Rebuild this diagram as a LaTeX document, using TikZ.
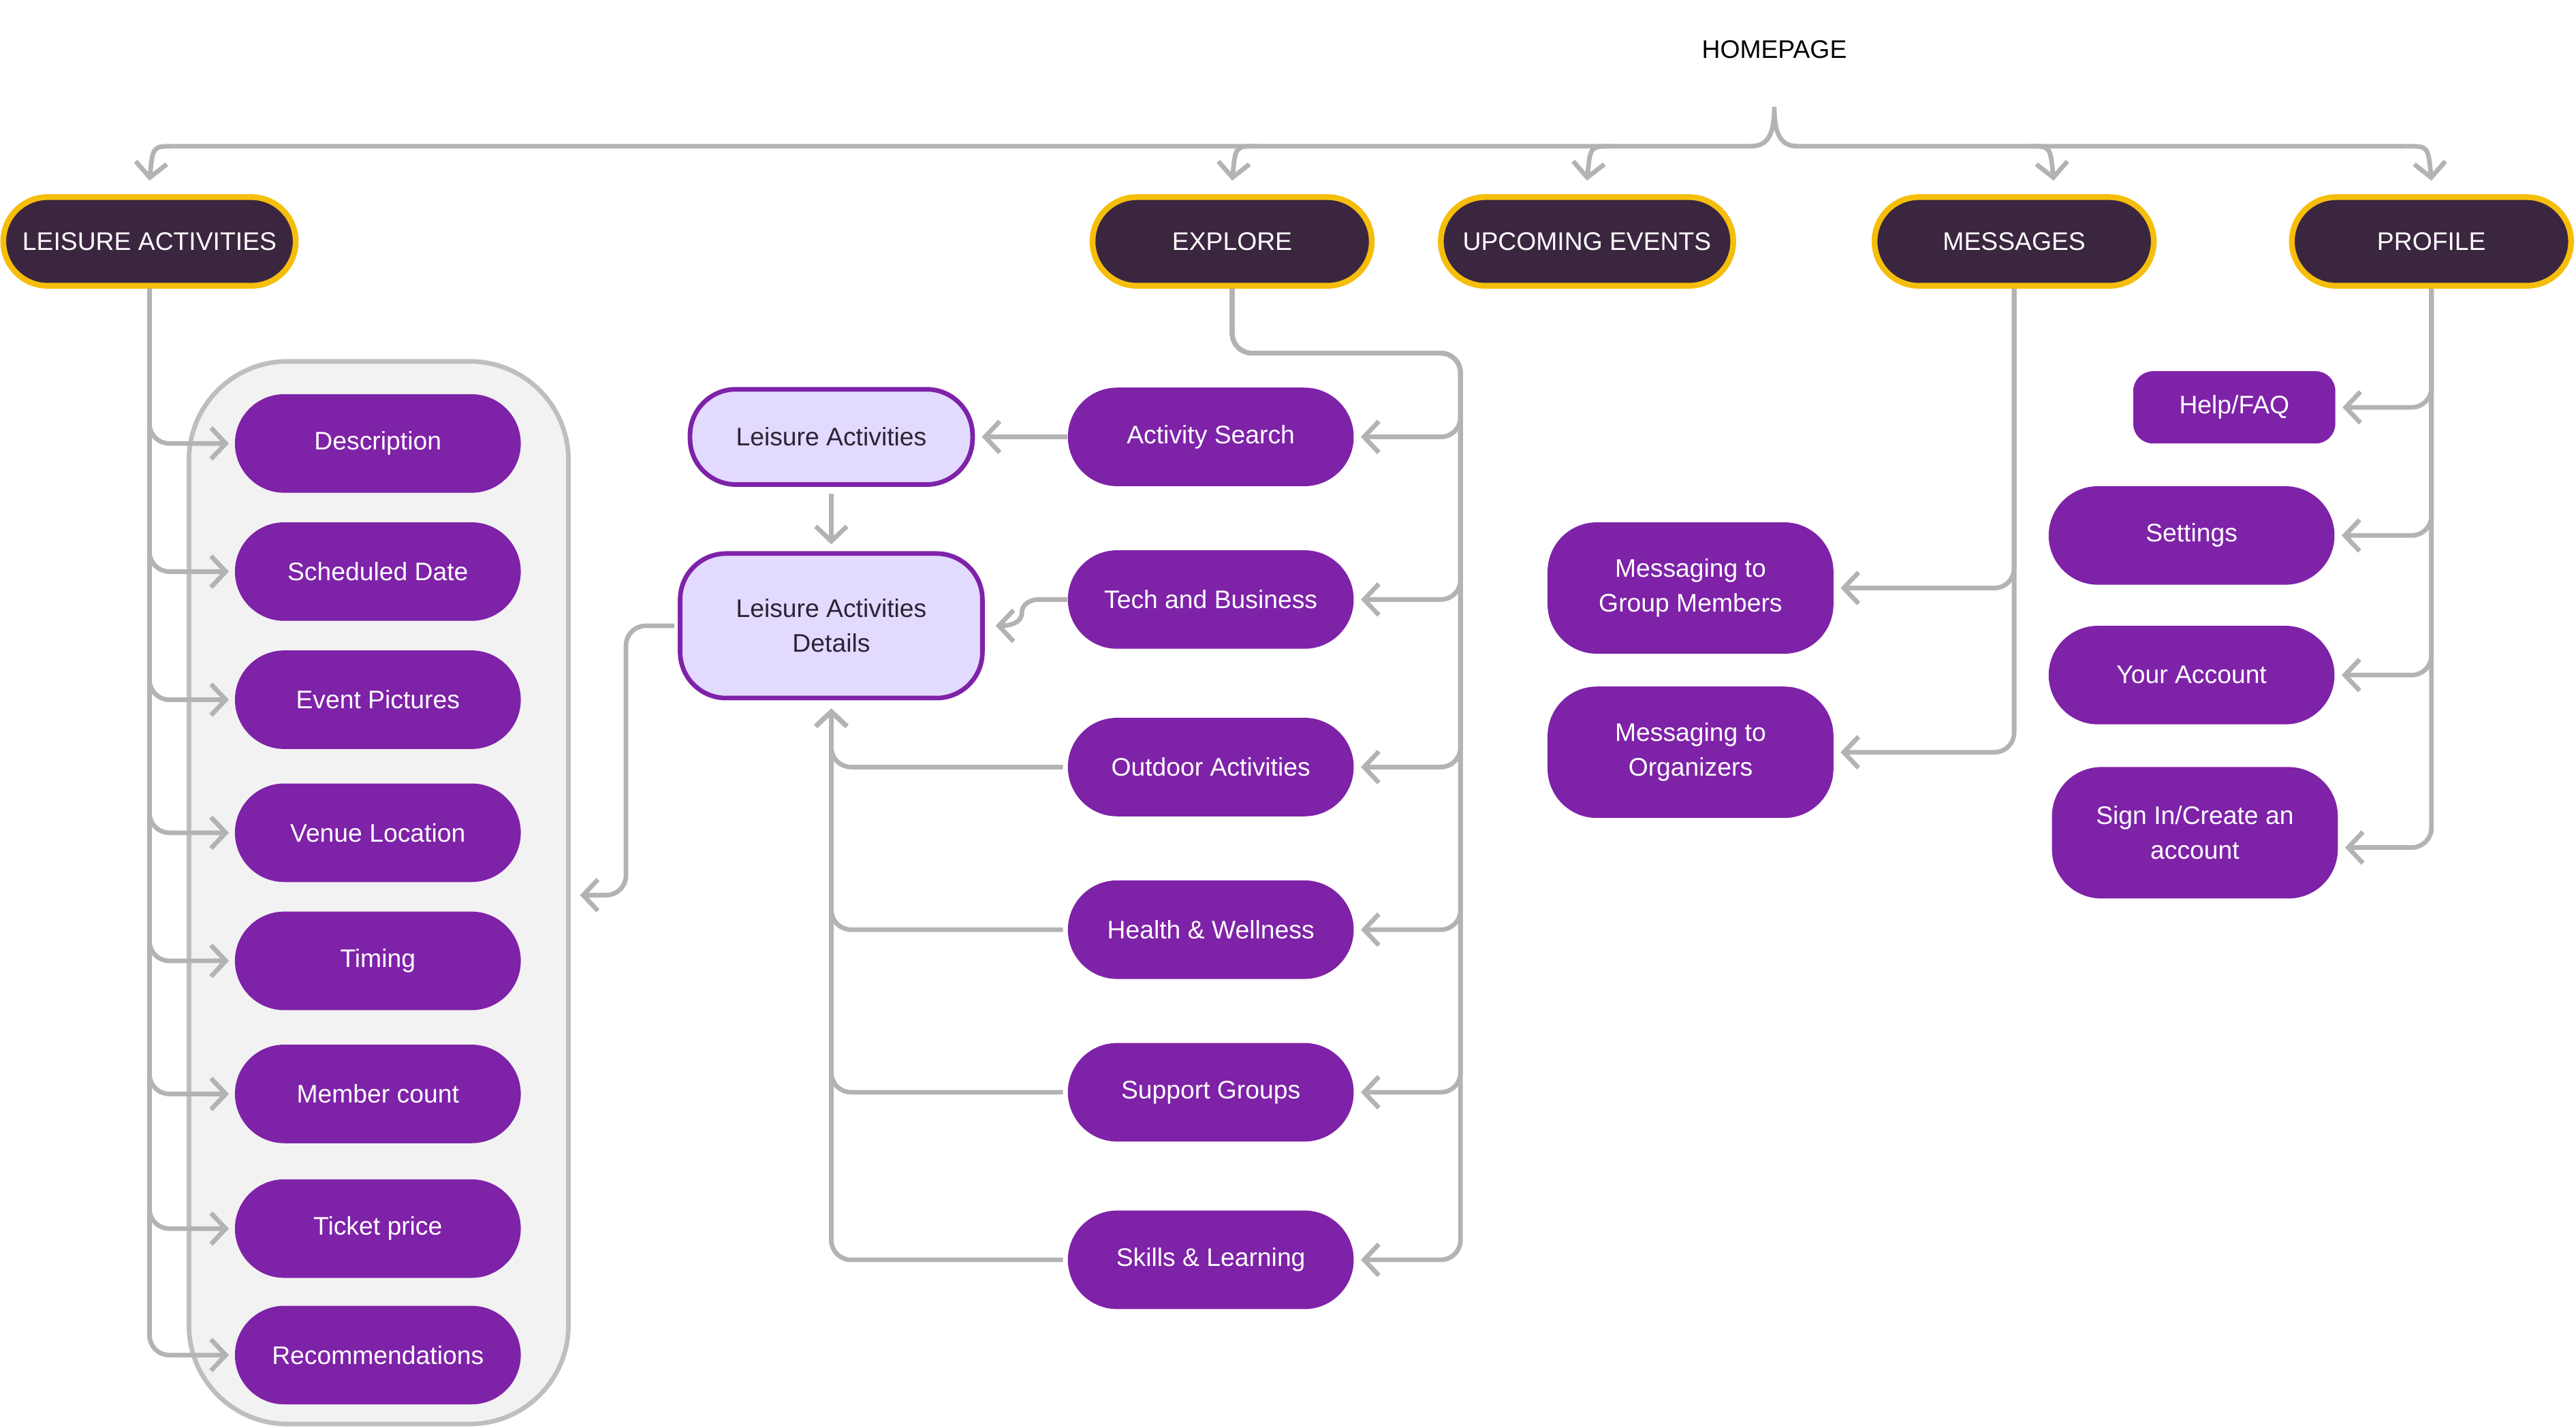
\documentclass[tikz,border=0pt]{standalone}
\usepackage{fontspec}
\setmainfont{Liberation Sans}
\usetikzlibrary{arrows.meta}
\definecolor{dk}{HTML}{3B2640}
\definecolor{yl}{HTML}{F5BE0B}
\definecolor{pu}{HTML}{7E22A8}
\definecolor{lv}{HTML}{E2DAFF}
\definecolor{gr}{HTML}{B3B3B3}
\definecolor{pn}{HTML}{F2F2F2}
\definecolor{tx}{HTML}{2D2235}
\begin{document}
\begin{tikzpicture}[x=0.05cm,y=-0.05cm,
  font=\fontsize{22}{30}\selectfont,
  top/.style={draw=yl,line width=5pt,fill=dk,text=white,rounded corners=1.35cm,minimum width=8.2cm,minimum height=2.7cm,inner sep=0pt},
  pur/.style={fill=pu,text=white,rounded corners=1.5cm,minimum width=8.7cm,minimum height=3cm,inner sep=0pt,align=center},
  lit/.style={draw=pu,line width=4pt,fill=lv,text=tx,rounded corners=1.4cm,inner sep=0pt,align=center},
  arr/.style={draw=gr,line width=4pt,rounded corners=0.6cm,-{Straight Barb[length=0.45cm,width=0.95cm,line width=4pt]}},
  ln/.style={draw=gr,line width=4pt}]
\useasboundingbox (0,0) rectangle (1568,869);
\node (hp) at (1080,30) {HOMEPAGE};
% top nodes
\node[top,minimum width=8.9cm] (la) at (91,147) {LEISURE ACTIVITIES};
\node[top,minimum width=8.5cm] (ex) at (750,147) {EXPLORE};
\node[top,minimum width=8.9cm] (ue) at (966,147) {UPCOMING EVENTS};
\node[top,minimum width=8.5cm] (ms) at (1226,147) {MESSAGES};
\node[top,minimum width=8.5cm] (pf) at (1480,147) {PROFILE};
% brace
\coordinate (b0) at (106,89); \coordinate (b1) at (1465,89);
\coordinate (bc) at (1080,65);
\draw[ln] (b0) -- (1066,89) .. controls (1077,89) and (1080,80) .. (bc) .. controls (1080,80) and (1083,89) .. (1094,89) -- (b1);
\coordinate (t1) at (91,110); \coordinate (t2) at (750,110); \coordinate (t3) at (966,110);
\coordinate (t4) at (1250,110); \coordinate (t5) at (1480,110);
\draw[arr] (b0) .. controls (93,89) .. (t1);
\draw[arr] (765,89) .. controls (752,89) .. (t2);
\draw[arr] (981,89) .. controls (968,89) .. (t3);
\draw[arr] (1235,89) .. controls (1248,89) .. (t4);
\draw[arr] (b1) .. controls (1478,89) .. (t5);
% left panel
\node[draw=gr!85,line width=4pt,fill=pn,rounded corners=3cm,minimum width=11.55cm,minimum height=32.35cm,inner sep=0pt] (panel) at (230.5,543.5) {};
\foreach \n/\y/\t in {d1/270/Description,d2/348/Scheduled Date,d3/426/Event Pictures,d4/507/Venue Location,d5/585/Timing,d6/666/Member count,d7/748/Ticket price,d8/825/Recommendations}{
  \node[pur] (\n) at (230,\y) {\t};
  \draw[arr,shorten >=5pt] (la.south) |- (\n.west);
}
% explore column
\foreach \n/\y/\t in {as/266/Activity Search,tb/365/Tech and Business,oa/467/Outdoor Activities,hw/566/Health \& Wellness,sg/665/Support Groups,sl/767/Skills \& Learning}{
  \node[pur] (\n) at (737,\y) {\t};
  \draw[arr,shorten >=6pt] (ex.south) |- (889,215) |- (\n.east);
}
\node[lit,minimum width=8.6cm,minimum height=2.9cm] (lac) at (506,266) {Leisure Activities};
\node[lit,minimum width=9.2cm,minimum height=4.4cm] (det) at (506,381) {Leisure Activities\\Details};
\draw[arr,shorten >=6pt] (as.west) -- (lac.east);
\draw[arr,shorten <=6pt,shorten >=6pt] (lac.south) -- (det.north);
\coordinate (tw) at (622,373);
\draw[arr,rounded corners=0pt] (tb.west) -- (632,365) to[out=180,in=90] (tw) to[out=-90,in=0] (606,381);
\foreach \n in {oa,hw,sg,sl}{
  \draw[arr,shorten >=7pt] ([xshift=-4pt]\n.west) -| (det.south);
}
\coordinate (pin) at (353,545);
\draw[arr] ([xshift=-3pt]det.west) -| (381,545) -- (pin);
% messages
\node[pur,minimum height=4cm] (mg) at (1029,358) {Messaging to\\Group Members};
\node[pur,minimum height=4cm] (mo) at (1029,458) {Messaging to\\Organizers};
\draw[arr,shorten >=6pt] (ms.south) |- (mg.east);
\draw[arr,shorten >=6pt] (ms.south) |- (mo.east);
% profile
\node[pur,minimum width=6.15cm,minimum height=2.2cm,rounded corners=0.6cm] (hf) at (1360,248) {Help/FAQ};
\node[pur] (st) at (1334,326) {Settings};
\node[pur] (ya) at (1334,411) {Your Account};
\node[pur,minimum height=4cm] (si) at (1336,507) {Sign In/Create an\\account};
\draw[arr,shorten >=6pt] (pf.south) |- (hf.east);
\draw[arr,shorten >=6pt] (pf.south) |- (st.east);
\draw[arr,shorten >=6pt] (pf.south) |- (ya.east);
\draw[arr,shorten >=6pt] (pf.south) |- ([yshift=-0.45cm]si.east);
\end{tikzpicture}
\end{document}
